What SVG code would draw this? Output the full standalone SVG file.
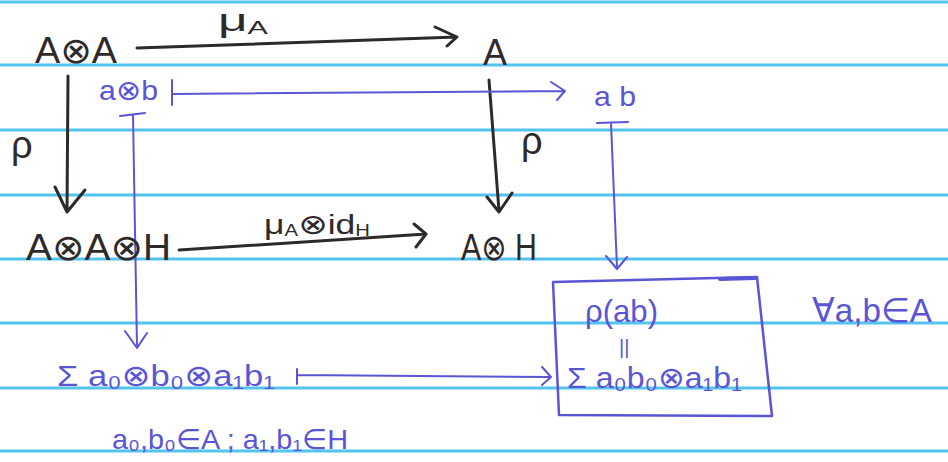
<svg xmlns="http://www.w3.org/2000/svg" width="948" height="462" viewBox="0 0 948 462">
<defs>
<style>
.paper{stroke:#55c3ef;stroke-width:3;fill:none}
.k{fill:#2e2a2a;font-family:"Liberation Sans","DejaVu Sans",sans-serif}
.b{fill:#5a55d6;font-family:"Liberation Sans","DejaVu Sans",sans-serif}
.kl{stroke:#2e2a2a;stroke-width:3;fill:none;stroke-linecap:round;stroke-linejoin:round}
.bl{stroke:#5a55d6;stroke-width:2;fill:none;stroke-linecap:round;stroke-linejoin:round}
</style>
</defs>
<rect width="948" height="462" fill="#ffffff"/>
<g id="paper-lines">
<line class="paper" x1="0" y1="2" x2="948" y2="2"/>
<line class="paper" x1="0" y1="65" x2="948" y2="65"/>
<line class="paper" x1="0" y1="130" x2="948" y2="130"/>
<line class="paper" x1="0" y1="195" x2="948" y2="195"/>
<line class="paper" x1="0" y1="259" x2="948" y2="259"/>
<line class="paper" x1="0" y1="323" x2="948" y2="323"/>
<line class="paper" x1="0" y1="388" x2="948" y2="388"/>
<line class="paper" x1="0" y1="451" x2="948" y2="451"/>
</g>
<g id="connectors">
<!-- mu_A -->
<path class="kl" d="M137,48 L457,37 M435,27 L457,37 L447,46"/>
<text class="k" x="218" y="31" font-size="32" textLength="50" lengthAdjust="spacingAndGlyphs">μ<tspan font-size="19" dy="3">A</tspan></text>
<!-- left rho -->
<path class="kl" d="M68,76 L67,212 M55,187 L67,212 L85,190"/>
<text class="k" x="11" y="158" font-size="38">ρ</text>
<!-- right rho -->
<path class="kl" d="M489,80 L499,211 M487,197 L499,212 L512,193"/>
<text class="k" x="521" y="154" font-size="38">ρ</text>
<!-- mu_A ⊗ id_H -->
<path class="kl" d="M179,250 L426,234 M414,224 L426,234 L416,247"/>
<text class="k" x="264" y="234" font-size="28" textLength="106" lengthAdjust="spacingAndGlyphs">μ<tspan font-size="16" dy="2">A</tspan><tspan dy="-2">⊗id</tspan><tspan font-size="16" dy="2">H</tspan></text>
<!-- a⊗b |-> ab -->
<path class="bl" d="M172,80 L172,105 M172,94 L565,91 M551,82 L565,91 L557,100"/>
<!-- a⊗b |-> down -->
<path class="bl" d="M120,116 L145,113 M133,115 L137,347 M125,331 L137,348 L147,333"/>
<!-- ab |-> down -->
<path class="bl" d="M597,123 L628,122 M611,123 L617,268 M606,256 L617,269 L627,257"/>
<!-- sum |-> box -->
<path class="bl" d="M297,369 L297,384 M297,375 L551,377 M542,367 L551,377 L542,385"/>
</g>
<g id="n-AA">
<text class="k" x="35" y="63" font-size="36" textLength="82" lengthAdjust="spacingAndGlyphs">A⊗A</text>
</g>
<g id="n-A">
<text class="k" x="483" y="65" font-size="36" textLength="24" lengthAdjust="spacingAndGlyphs">A</text>
</g>
<g id="n-AAH">
<text class="k" x="26" y="260" font-size="36" textLength="145" lengthAdjust="spacingAndGlyphs">A⊗A⊗H</text>
</g>
<g id="n-AH">
<text class="k" x="461" y="260" font-size="36" textLength="76" lengthAdjust="spacingAndGlyphs">A⊗ H</text>
</g>
<g id="n-ab-tensor">
<text class="b" x="99" y="100" font-size="28" textLength="59" lengthAdjust="spacingAndGlyphs">a⊗b</text>
</g>
<g id="n-ab">
<text class="b" x="594" y="106" font-size="28" textLength="42" lengthAdjust="spacingAndGlyphs">a b</text>
</g>
<g id="n-sum">
<text class="b" x="57" y="386" font-size="30" textLength="218" lengthAdjust="spacingAndGlyphs">Σ a₀⊗b₀⊗a₁b₁</text>
</g>
<g id="n-box">
<path class="bl" style="stroke-width:2.5" d="M553,282 L757,277 L772,416 L559,415 Z"/>
<path class="bl" style="stroke-width:4" d="M720,279 L755,278"/>
<text class="b" x="585" y="322" font-size="32" textLength="73" lengthAdjust="spacingAndGlyphs">ρ(ab)</text>
<text class="b" x="619" y="354" font-size="20">||</text>
<text class="b" x="567" y="388" font-size="30" textLength="175" lengthAdjust="spacingAndGlyphs">Σ a₀b₀⊗a₁b₁</text>
</g>
<g id="n-forall">
<text class="b" x="812" y="322" font-size="34" textLength="120" lengthAdjust="spacingAndGlyphs">∀a,b∈A</text>
</g>
<g id="n-where">
<text class="b" x="112" y="449" font-size="28" textLength="236" lengthAdjust="spacingAndGlyphs">a₀,b₀∈A ; a₁,b₁∈H</text>
</g>
</svg>
